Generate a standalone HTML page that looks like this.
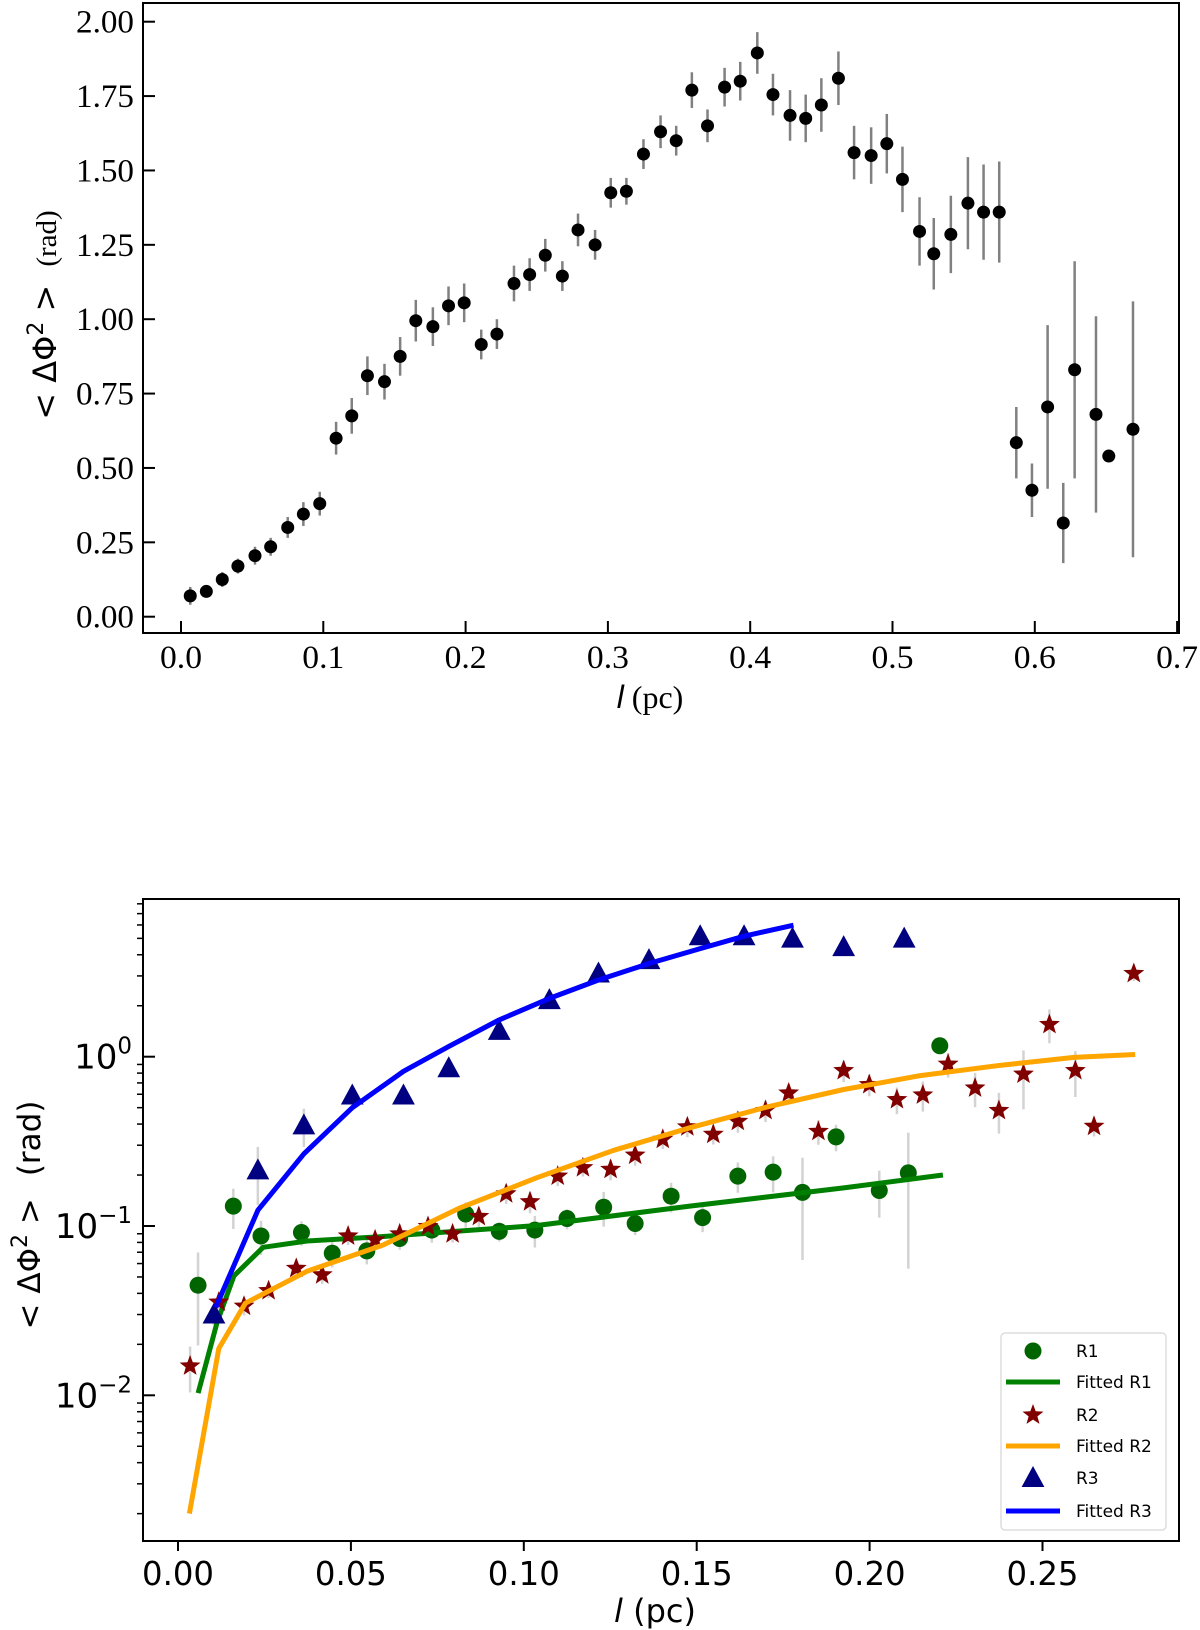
<!DOCTYPE html>
<html><head><meta charset="utf-8"><style>
html,body{margin:0;padding:0;background:#fff;}
svg{display:block;}
.serif{font-family:"Liberation Serif",serif;}
.sans{font-family:"DejaVu Sans","Liberation Sans",sans-serif;}
</style></head><body>
<svg id="chart" width="1200" height="1630" viewBox="0 0 1200 1630" xmlns="http://www.w3.org/2000/svg">
<g id="top"></g>
<g id="bot"></g>
</svg>
<script>
// ---------- top panel data ----------
const topX = [0.0065,0.0178,0.029,0.040,0.052,0.063,0.075,0.086,0.0975,0.109,0.120,0.131,0.143,0.154,0.165,0.177,0.188,0.199,0.211,0.222,0.234,0.245,0.256,0.268,0.279,0.291,0.302,0.313,0.325,0.337,0.348,0.359,0.370,0.382,0.393,0.405,0.416,0.428,0.439,0.450,0.462,0.473,0.485,0.496,0.507,0.519,0.529,0.541,0.553,0.564,0.575,0.587,0.598,0.609,0.620,0.628,0.643,0.652,0.669];
const topY = [0.07,0.085,0.125,0.17,0.205,0.235,0.30,0.345,0.38,0.60,0.675,0.81,0.79,0.875,0.995,0.975,1.045,1.055,0.915,0.95,1.12,1.15,1.215,1.145,1.30,1.25,1.425,1.43,1.555,1.63,1.60,1.77,1.65,1.78,1.80,1.895,1.755,1.685,1.675,1.72,1.81,1.56,1.55,1.59,1.47,1.295,1.22,1.285,1.39,1.36,1.36,0.585,0.425,0.705,0.315,0.83,0.68,0.54,0.63];
const topErr = [0.03,0.02,0.025,0.025,0.03,0.03,0.035,0.04,0.04,0.055,0.06,0.065,0.06,0.065,0.07,0.065,0.065,0.065,0.05,0.05,0.06,0.055,0.055,0.05,0.055,0.05,0.05,0.045,0.05,0.055,0.05,0.06,0.055,0.065,0.065,0.07,0.07,0.085,0.08,0.09,0.09,0.09,0.095,0.10,0.11,0.115,0.12,0.13,0.155,0.16,0.17,0.12,0.09,0.275,0.135,0.365,0.33,0.0,0.43];
const topXTicks = ["0.0","0.1","0.2","0.3","0.4","0.5","0.6","0.7"];
const topYTicks = ["0.00","0.25","0.50","0.75","1.00","1.25","1.50","1.75","2.00"];

// ---------- bottom panel data ----------
const r1X = [0.0058,0.016,0.024,0.0357,0.0446,0.0546,0.0641,0.0734,0.0832,0.0929,0.1032,0.1125,0.1231,0.1322,0.1426,0.1517,0.1619,0.1721,0.1806,0.1903,0.2028,0.2112,0.2203];
const r1Y = [0.0447,0.131,0.0873,0.0916,0.069,0.0713,0.0844,0.0946,0.1177,0.0929,0.0946,0.1107,0.129,0.1035,0.150,0.112,0.197,0.208,0.158,0.336,0.162,0.206,1.16];
const r1Err = [0.025,0.035,0.02,0.015,0.012,0.012,0.012,0.015,0.02,0.012,0.02,0.015,0.03,0.015,0.03,0.02,0.04,0.05,0.095,0.06,0.05,0.15,0.1];
const fit1X = [0.0058,0.0113,0.0162,0.0246,0.0373,0.0594,0.1038,0.148,0.1925,0.2212];
const fit1Y = [0.0103,0.027,0.0508,0.0748,0.0816,0.0867,0.1007,0.131,0.168,0.20];
const r2X = [0.0035,0.0118,0.0191,0.0262,0.0342,0.0417,0.0492,0.057,0.0641,0.0723,0.0794,0.087,0.0949,0.1018,0.1098,0.1171,0.1251,0.1322,0.1402,0.1473,0.1548,0.1619,0.1699,0.1766,0.1852,0.1925,0.1999,0.2079,0.2154,0.2227,0.2305,0.2374,0.2445,0.252,0.2595,0.2649,0.2764];
const r2Y = [0.0149,0.0355,0.0336,0.0415,0.0562,0.0515,0.0873,0.0828,0.0898,0.0993,0.0898,0.1138,0.155,0.139,0.197,0.221,0.216,0.262,0.325,0.385,0.348,0.415,0.481,0.61,0.362,0.828,0.684,0.558,0.594,0.903,0.653,0.481,0.789,1.55,0.828,0.388,3.1];
const r2Err = [0.0045,0.005,0.004,0.004,0.007,0.006,0.01,0.01,0.01,0.012,0.01,0.015,0.02,0.02,0.025,0.025,0.03,0.035,0.04,0.05,0.045,0.06,0.07,0.08,0.06,0.12,0.1,0.1,0.12,0.15,0.15,0.13,0.3,0.35,0.25,0.05,0.3];
const fit2X = [0.0033,0.0118,0.0195,0.0373,0.0594,0.0816,0.1038,0.126,0.148,0.1704,0.1925,0.2147,0.2369,0.2591,0.2768];
const fit2Y = [0.002,0.0189,0.035,0.054,0.0773,0.128,0.193,0.28,0.38,0.505,0.64,0.773,0.885,0.99,1.03];
const r3X = [0.0104,0.0231,0.0364,0.0504,0.0652,0.0783,0.0929,0.1074,0.1216,0.1362,0.151,0.1637,0.1777,0.1925,0.210];
const r3Y = [0.030,0.213,0.393,0.59,0.59,0.855,1.42,2.16,3.1,3.72,5.15,5.15,4.98,4.44,4.98];
const r3Err = [0.004,0.08,0.1,0.08,0.05,0.1,0.15,0.2,0.3,0.3,0.4,0.4,0.4,0.3,0.4];
const fit3X = [0.0109,0.0231,0.0364,0.0504,0.0652,0.0783,0.0929,0.1074,0.1216,0.1362,0.151,0.1637,0.178];
const fit3Y = [0.033,0.124,0.267,0.50,0.82,1.15,1.65,2.21,2.84,3.55,4.35,5.15,5.98];
const botXTicks = ["0.00","0.05","0.10","0.15","0.20","0.25"];
const botYDecades = [-2,-1,0];

const NS="http://www.w3.org/2000/svg";
function mk(parent,tag,attrs,text){const e=document.createElementNS(NS,tag);for(const k in attrs)e.setAttribute(k,attrs[k]);if(text!==undefined)e.textContent=text;parent.appendChild(e);return e;}

// ---------- TOP ----------
const T=document.getElementById('top');
const tx=v=>181+v*1423;
const ty=v=>616.7-v*297.5;
mk(T,'rect',{x:143,y:3,width:1036,height:630,fill:'none',stroke:'#000','stroke-width':2,});
topXTicks.forEach(s=>{const v=parseFloat(s),x=tx(v);
 mk(T,'line',{x1:x,x2:x,y1:633,y2:621,stroke:'#000','stroke-width':2,});
 mk(T,'text',{x:x,y:668,'text-anchor':'middle','font-size':33,class:'serif','textLength':42,'lengthAdjust':'spacingAndGlyphs'},s);});
topYTicks.forEach(s=>{const v=parseFloat(s),y=ty(v);
 mk(T,'line',{x1:143,x2:155,y1:y,y2:y,stroke:'#000','stroke-width':2,});
 mk(T,'text',{x:134,y:y+11,'text-anchor':'end','font-size':33,class:'serif','textLength':58,'lengthAdjust':'spacingAndGlyphs'},s);});
for(let i=0;i<topX.length;i++){
 const x=tx(topX[i]),y=ty(topY[i]);
 if(topErr[i]>0){const el=mk(T,'line',{x1:x,x2:x,y1:ty(topY[i]+topErr[i]),y2:ty(topY[i]-topErr[i]),stroke:'#808080','stroke-width':2.5});
 
 }
 const c=mk(T,'circle',{cx:x,cy:y,r:6.5,fill:'#000'});
 
 
}
mk(T,'text',{x:650,y:708,'text-anchor':'middle','font-size':32,class:'serif',}).innerHTML='<tspan font-family="Liberation Sans, sans-serif" font-style="italic">l</tspan> (pc)';
mk(T,'text',{transform:'translate(56,315) rotate(-90)','text-anchor':'middle','font-size':32,}).innerHTML='<tspan font-family="DejaVu Sans, sans-serif">&lt; ΔΦ<tspan dy="-13" font-size="22">2</tspan><tspan dy="13"> &gt;</tspan></tspan><tspan font-family="Liberation Serif, serif" font-size="29" dx="18">(rad)</tspan>';

// ---------- BOTTOM ----------
const B=document.getElementById('bot');
const bx=v=>178+v*3458;
const by=v=>1056.7-Math.log10(v)*169.3;
const clipTop=899,clipBot=1541;
mk(B,'defs',{}).innerHTML='<clipPath id="bclip"><rect x="143" y="899" width="1036" height="642"/></clipPath>';
const P=mk(B,'g',{'clip-path':'url(#bclip)',});
for(let d=-3;d<=0;d++){for(let m=2;m<=9;m++){const y=by(m*Math.pow(10,d));if(y<clipTop||y>clipBot)continue;
 const t=mk(B,'line',{x1:137,x2:143,y1:y,y2:y,stroke:'#000','stroke-width':1.5});
 
 }}
botYDecades.forEach(d=>{const y=by(Math.pow(10,d));
 mk(B,'line',{x1:143,x2:155,y1:y,y2:y,stroke:'#000','stroke-width':2,});
 mk(B,'text',{x:132,y:y+12,'text-anchor':'end','font-size':34,class:'sans',}).innerHTML='10<tspan dy="-15" font-size="23">'+(d<0?'−'+(-d):d)+'</tspan>';});
botXTicks.forEach(s=>{const v=parseFloat(s),x=bx(v);
 mk(B,'line',{x1:x,x2:x,y1:1541,y2:1551,stroke:'#000','stroke-width':2,});
 mk(B,'text',{x:x,y:1585,'text-anchor':'middle','font-size':33,class:'sans','textLength':72,'lengthAdjust':'spacingAndGlyphs'},s);});
function errs(X,Y,E,name){for(let i=0;i<X.length;i++){const x=bx(X[i]);const lo=Math.max(Y[i]-E[i],Y[i]*0.05);
 const l=mk(P,'line',{x1:x,x2:x,y1:by(Y[i]+E[i]),y2:by(lo),stroke:'#d3d3d3','stroke-width':2.5});
 
 }}
function line(X,Y,col,name){const pts=X.map((v,i)=>bx(v).toFixed(1)+','+by(Y[i]).toFixed(1)).join(' ');
 const l=mk(P,'polyline',{points:pts,fill:'none',stroke:col,'stroke-width':5,'stroke-linejoin':'round'});
 
 }
function star(cx,cy,R){let p=[];for(let k=0;k<10;k++){const r=k%2?R*0.42:R;const a=-Math.PI/2+k*Math.PI/5;p.push((cx+r*Math.cos(a)).toFixed(1)+','+(cy+r*Math.sin(a)).toFixed(1));}return p.join(' ');}
function tri(cx,cy,s){return `${cx},${cy-s} ${cx-s*0.95},${cy+s*0.75} ${cx+s*0.95},${cy+s*0.75}`;}
errs(r1X,r1Y,r1Err,'r1-error-bar');errs(r2X,r2Y,r2Err,'r2-error-bar');errs(r3X,r3Y,r3Err,'r3-error-bar');
for(let i=0;i<r1X.length;i++){const c=mk(P,'circle',{cx:bx(r1X[i]),cy:by(r1Y[i]),r:8.5,fill:'#006400'});
 
 }
line(fit1X,fit1Y,'#008000','fitted-r1-line');
for(let i=0;i<r2X.length;i++){const s=mk(P,'polygon',{points:star(bx(r2X[i]),by(r2Y[i]),11),fill:'#800000'});
 
 }
line(fit2X,fit2Y,'#ffa500','fitted-r2-line');
for(let i=0;i<r3X.length;i++){const t=mk(P,'polygon',{points:tri(bx(r3X[i]),by(r3Y[i]),12),fill:'#000080'});
 
 }
line(fit3X,fit3Y,'#0000ff','fitted-r3-line');
mk(B,'rect',{x:143,y:899,width:1036,height:642,fill:'none',stroke:'#000','stroke-width':2,});
const L=mk(B,'g',{});
mk(L,'rect',{x:1001,y:1333,width:165,height:197,rx:4,fill:'#fff','fill-opacity':0.85,stroke:'#ddd','stroke-width':1.5,});
const rows=[1351,1382,1415,1446,1478,1511];
const labels=['R1','Fitted R1','R2','Fitted R2','R3','Fitted R3'];
mk(L,'circle',{cx:1033,cy:rows[0],r:8.5,fill:'#006400',});
mk(L,'line',{x1:1006,x2:1060,y1:rows[1],y2:rows[1],stroke:'#008000','stroke-width':5,});
mk(L,'polygon',{points:star(1033,rows[2],11),fill:'#800000',});
mk(L,'line',{x1:1006,x2:1060,y1:rows[3],y2:rows[3],stroke:'#ffa500','stroke-width':5,});
mk(L,'polygon',{points:tri(1033,rows[4],12),fill:'#000080',});
mk(L,'line',{x1:1006,x2:1060,y1:rows[5],y2:rows[5],stroke:'#0000ff','stroke-width':5,});
labels.forEach((s,i)=>mk(L,'text',{x:1076,y:rows[i]+6,'font-size':17,class:'sans',},s));
mk(B,'text',{x:655,y:1622,'text-anchor':'middle','font-size':32,class:'sans',}).innerHTML='<tspan font-style="italic">l</tspan> (pc)';
mk(B,'text',{transform:'translate(40,1215) rotate(-90)','text-anchor':'middle','font-size':31,class:'sans',}).innerHTML='&lt; ΔΦ<tspan dy="-13" font-size="22">2</tspan><tspan dy="13"> &gt;</tspan><tspan dx="22">(rad)</tspan>';
</script>
</body></html>
